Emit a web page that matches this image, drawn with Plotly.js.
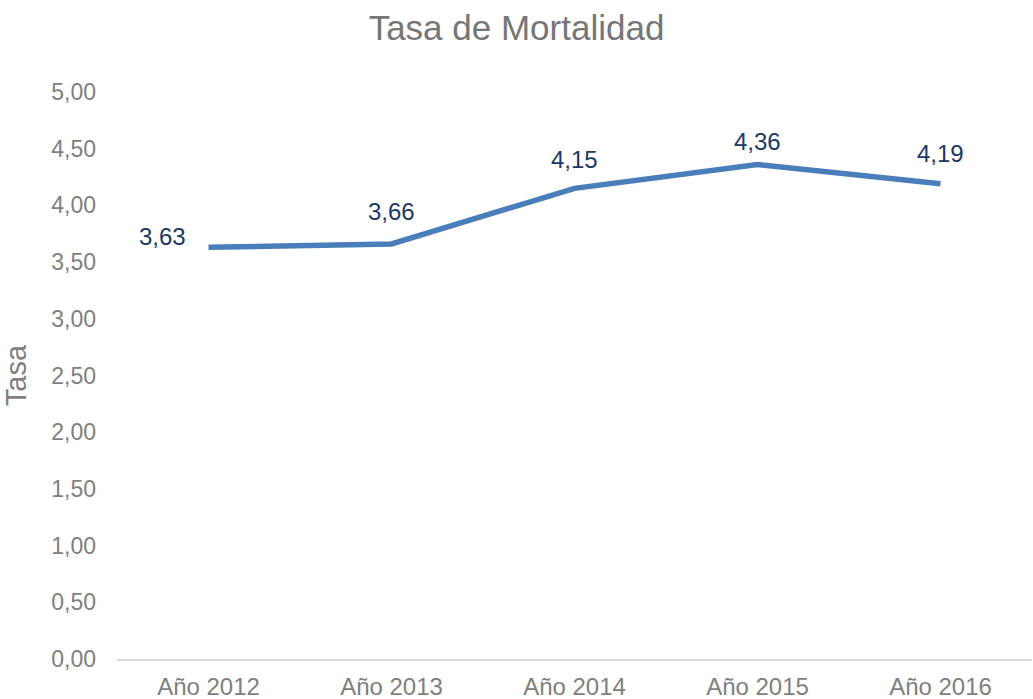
<!DOCTYPE html>
<html>
<head>
<meta charset="utf-8">
<script src="https://cdn.plot.ly/plotly-3.0.1.min.js"></script>
<style>html,body{margin:0;padding:0;background:#fff;}#chart{width:1033px;height:699px;}</style>
</head>
<body>
<div id="chart"></div>
<script>
const categories = ["Año 2012", "Año 2013", "Año 2014", "Año 2015", "Año 2016"];
const tasa = [3.63, 3.66, 4.15, 4.36, 4.19];
const yTickVals = [0, 0.5, 1, 1.5, 2, 2.5, 3, 3.5, 4, 4.5, 5];
const yTickText = ["0,00", "0,50", "1,00", "1,50", "2,00", "2,50", "3,00", "3,50", "4,00", "4,50", "5,00"];
const labelText = ["3,63", "3,66", "4,15", "4,36", "4,19"];

const FONT = "Liberation Sans, Arial, sans-serif";
const labelShiftX = [-46, 0, 0, 0, 0];
const labelShiftY = [11, 32, 29, 23, 30];

const annotations = categories.map((c, i) => ({
  x: c, y: tasa[i], xref: "x", yref: "y",
  text: labelText[i], showarrow: false,
  xshift: labelShiftX[i], yshift: labelShiftY[i],
  font: {family: FONT, size: 24, color: "#203864"}
}));

const trace = {
  x: categories, y: tasa, type: "scatter", mode: "lines",
  line: {color: "#4a7ebb", width: 5.5},
  hoverinfo: "skip"
};

const layout = {
  width: 1033, height: 699,
  margin: {l: 117, r: 1, t: 92, b: 40},
  paper_bgcolor: "#ffffff", plot_bgcolor: "#ffffff",
  showlegend: false,
  font: {family: FONT, color: "#7f7f7f"},
  title: {text: "Tasa de Mortalidad", x: 0.5, xref: "container", xanchor: "center",
          y: 0.96, yref: "container", yanchor: "middle",
          font: {family: FONT, size: 35, color: "#767676"}},
  xaxis: {
    type: "category", range: [-0.5, 4.5],
    showgrid: false, zeroline: false,
    showline: true, linecolor: "#d9d9d9", linewidth: 1.5,
    ticks: "", ticklabelstandoff: 6,
    tickfont: {family: FONT, size: 24, color: "#7f7f7f"},
    fixedrange: true
  },
  yaxis: {
    range: [0, 5], tickvals: yTickVals, ticktext: yTickText,
    showgrid: false, zeroline: false, showline: false,
    ticks: "", ticklabelstandoff: 20,
    tickfont: {family: FONT, size: 23, color: "#7f7f7f"},
    title: {text: "Tasa", standoff: 25, font: {family: FONT, size: 29, color: "#7f7f7f"}},
    fixedrange: true
  },
  annotations: annotations
};

Plotly.newPlot("chart", [trace], layout, {displayModeBar: false, staticPlot: true});
</script>
</body>
</html>
